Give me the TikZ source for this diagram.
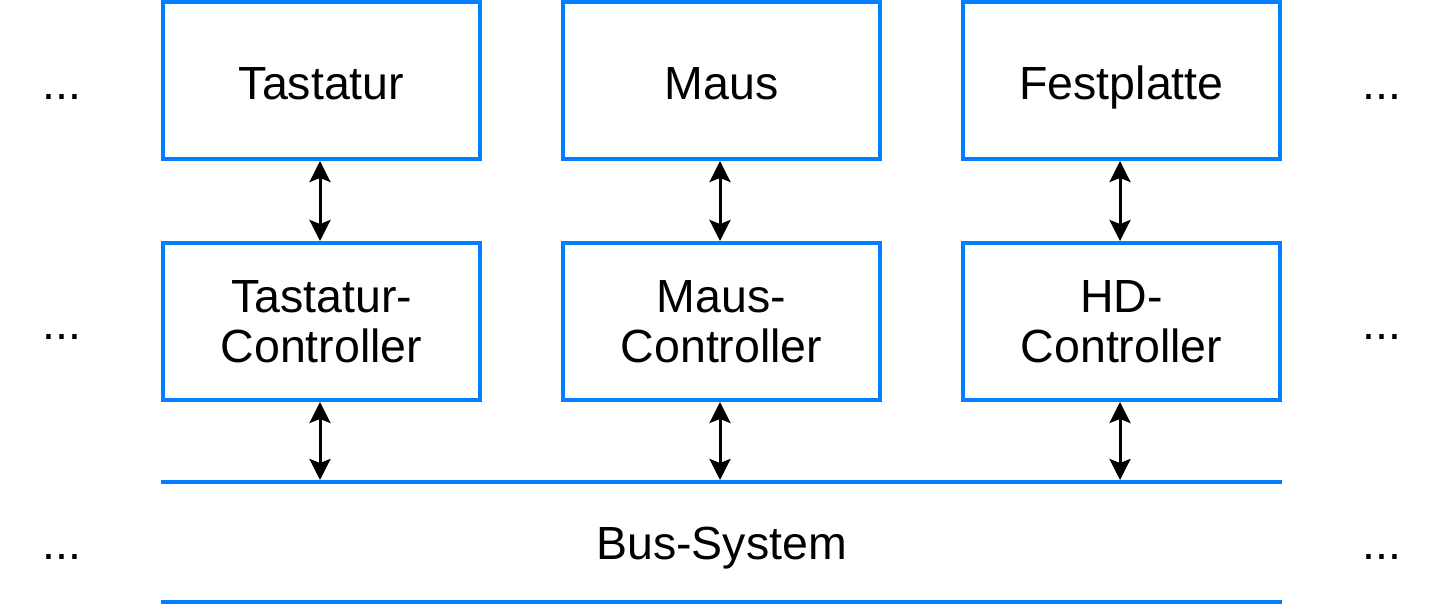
\documentclass[tikz,border=0pt]{standalone}
\usepackage{fontspec}
\setmainfont{Liberation Sans}
\usetikzlibrary{arrows.meta}
\definecolor{boxblue}{RGB}{0,127,255}
\tikzset{
  unitbox/.style={draw=boxblue, line width=4pt, minimum width=317pt, minimum height=157pt, inner sep=0pt, align=center, font=\fontsize{46.5}{50}\selectfont},
  onebox/.style={unitbox, text height=37.5pt, text depth=0pt},
  lbl/.style={inner sep=0pt, anchor=base, font=\fontsize{46.5}{50}\selectfont},
  busline/.style={draw=boxblue, line width=4pt},
  link/.style={line width=3pt, {Stealth[length=21pt,width=21pt,inset=4pt]}-{Stealth[length=21pt,width=21pt,inset=4pt]}}
}
\begin{document}
\begin{tikzpicture}[x=1pt,y=-1pt]
\useasboundingbox (0,0) rectangle (1448,608);
% top row
\node[onebox] (tast) at (321.5,80.5) {Tastatur};
\node[onebox] (maus) at (721.5,80.5) {Maus};
\node[onebox] (fest) at (1121.5,80.5) {Festplatte};
% controllers
\node[unitbox] (tastc) at (321.5,321.5) {Tastatur-\\Controller};
\node[unitbox] (mausc) at (721.5,321.5) {Maus-\\Controller};
\node[unitbox] (hdc) at (1121.5,321.5) {HD-\\Controller};
% bus
\coordinate (busTL) at (161,482);
\coordinate (busTR) at (1282,482);
\coordinate (busBL) at (161,602);
\coordinate (busBR) at (1282,602);
\draw[busline] (busTL) -- (busTR);
\draw[busline] (busBL) -- (busBR);
\node[lbl] (bus) at (721.5,559) {Bus-System};
\coordinate (b1) at (320,480);
\coordinate (b2) at (720,480);
\coordinate (b3) at (1120,480);
% dots
\node[lbl] (d1l) at (62,99) {...};
\node[lbl] (d2l) at (62,339) {...};
\node[lbl] (d3l) at (62,559) {...};
\node[lbl] (d1r) at (1382,99) {...};
\node[lbl] (d2r) at (1382,339) {...};
\node[lbl] (d3r) at (1382,559) {...};
% arrows
\draw[link] ([xshift=-1.5pt]tast.south) -- ([xshift=-1.5pt]tastc.north);
\draw[link] ([xshift=-1.5pt]maus.south) -- ([xshift=-1.5pt]mausc.north);
\draw[link] ([xshift=-1.5pt]fest.south) -- ([xshift=-1.5pt]hdc.north);
\draw[link] ([xshift=-1.5pt]tastc.south) -- (b1);
\draw[link] ([xshift=-1.5pt]mausc.south) -- (b2);
\draw[link] ([xshift=-1.5pt]hdc.south) -- (b3);
\end{tikzpicture}
\end{document}
